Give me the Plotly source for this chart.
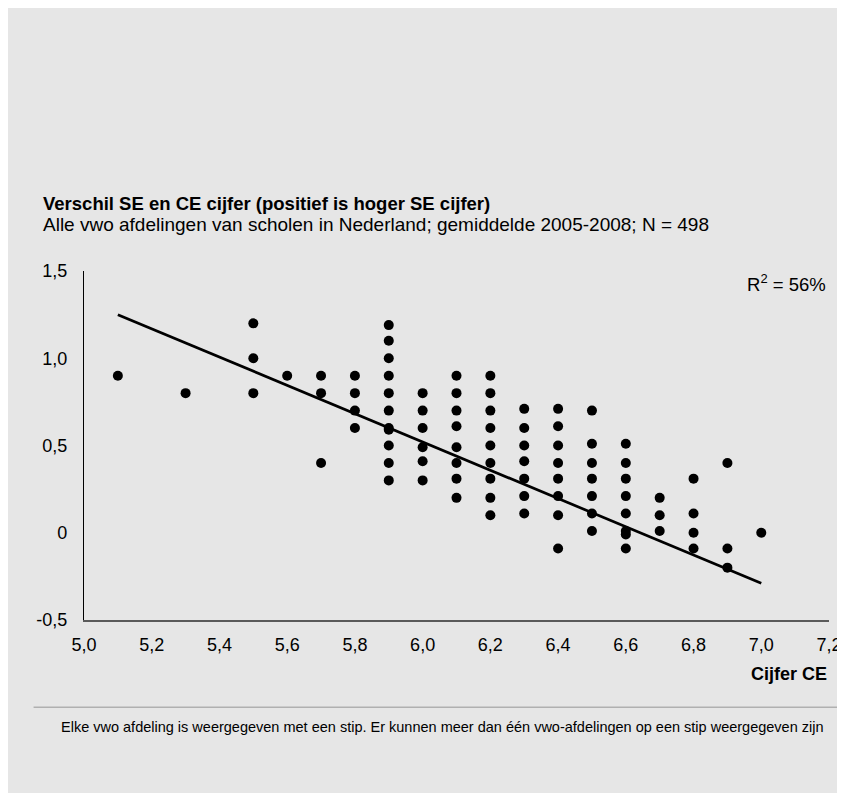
import plotly.graph_objects as go

# ---- data ----
cijfer_ce = (
    [5.1] + [5.3] + [5.5] * 3 + [5.6] + [5.7] * 3 + [5.8] * 4 + [5.9] * 11 +
    [6.0] * 6 + [6.1] * 8 + [6.2] * 9 + [6.3] * 7 + [6.4] * 8 + [6.5] * 7 +
    [6.6] * 8 + [6.7] * 3 + [6.8] * 4 + [6.9] * 3 + [7.0]
)
verschil = [
    0.9,
    0.8,
    1.2, 1.0, 0.8,
    0.9,
    0.9, 0.8, 0.4,
    0.9, 0.8, 0.7, 0.6,
    1.19, 1.1, 1.0, 0.9, 0.8, 0.7, 0.6, 0.59, 0.5, 0.4, 0.3,
    0.8, 0.7, 0.6, 0.49, 0.41, 0.3,
    0.9, 0.8, 0.7, 0.61, 0.49, 0.4, 0.31, 0.2,
    0.9, 0.8, 0.7, 0.6, 0.5, 0.4, 0.31, 0.2, 0.1,
    0.71, 0.6, 0.5, 0.41, 0.31, 0.21, 0.11,
    0.71, 0.61, 0.5, 0.4, 0.31, 0.21, 0.1, -0.09,
    0.7, 0.51, 0.4, 0.31, 0.21, 0.11, 0.01,
    0.51, 0.4, 0.31, 0.21, 0.11, 0.01, -0.01, -0.09,
    0.2, 0.1, 0.01,
    0.31, 0.11, 0.0, -0.09,
    0.4, -0.09, -0.2,
    0.0,
]
trend_x = [5.1, 7.0]
trend_y = [1.25, -0.29]

x_tick_vals = [5.0, 5.2, 5.4, 5.6, 5.8, 6.0, 6.2, 6.4, 6.6, 6.8, 7.0, 7.2]
x_tick_labels = ["5,0", "5,2", "5,4", "5,6", "5,8", "6,0", "6,2", "6,4", "6,6", "6,8", "7,0", "7,2"]
y_tick_vals = [-0.5, 0.0, 0.5, 1.0, 1.5]
y_tick_labels = ["-0,5", "0", "0,5", "1,0", "1,5"]

title = "Verschil SE en CE cijfer (positief is hoger SE cijfer)"
subtitle = "Alle vwo afdelingen van scholen in Nederland; gemiddelde 2005-2008; N = 498"
r2_text = "R<sup>2</sup> = 56%"
x_title = "Cijfer CE"
footnote = ("Elke vwo afdeling is weergegeven met een stip. Er kunnen meer dan één "
            "vwo-afdelingen op een stip weergegeven zijn")

# ---- layout geometry (page pixels; figure sits 8px in from the page corner) ----
OFF = 8
W, H = 845, 793
SL, SR, ST, SB = 83.5, 829.5, 271, 620.5           # plot area in page coords
L, R, T, B = SL - OFF, SR - OFF, ST - OFF, SB - OFF  # in figure coords


def px(xs):
    return (xs - SL) / (SR - SL)


def py(ys):
    return (SB - ys) / (SB - ST)


BG = "#e6e6e6"
FONT = "Liberation Sans, Arial, sans-serif"

fig = go.Figure()
fig.add_trace(go.Scatter(
    x=trend_x, y=trend_y, mode="lines",
    line=dict(color="black", width=2.7), hoverinfo="skip", showlegend=False,
))
fig.add_trace(go.Scatter(
    x=cijfer_ce, y=verschil, mode="markers",
    marker=dict(color="black", size=10), showlegend=False,
))

fig.update_layout(
    width=W, height=H, autosize=False,
    paper_bgcolor=BG, plot_bgcolor=BG,
    margin=dict(l=L, r=W - R, t=T, b=H - B, pad=0),
    font=dict(family=FONT, size=18, color="black"),
    showlegend=False,
    xaxis=dict(
        range=[5.0, 7.2], tickvals=x_tick_vals, ticktext=x_tick_labels,
        showgrid=False, zeroline=False, showline=True, linecolor="#5a5a5a", linewidth=1.6,
        ticks="", ticklabelstandoff=8, tickfont=dict(size=18), ticklabeloverflow="allow",
        automargin=False,
    ),
    yaxis=dict(
        range=[-0.5, 1.5], tickvals=y_tick_vals, ticktext=y_tick_labels,
        showgrid=False, zeroline=False, showline=True, linecolor="black", linewidth=1.2,
        ticks="", ticklabelstandoff=12, tickfont=dict(size=18), automargin=False,
    ),
    annotations=[
        dict(text="<b>" + title + "</b>", xref="paper", yref="paper", x=px(40), y=py(203),
             xanchor="left", yanchor="middle", showarrow=False, font=dict(size=18.5)),
        dict(text=subtitle, xref="paper", yref="paper", x=px(40), y=py(224),
             xanchor="left", yanchor="middle", showarrow=False, font=dict(size=19)),
        dict(text=r2_text, xref="paper", yref="paper", x=px(828), y=py(283),
             xanchor="right", yanchor="middle", showarrow=False, font=dict(size=18.5)),
        dict(text="<b>" + x_title + "</b>", xref="paper", yref="paper", x=px(830), y=py(675),
             xanchor="right", yanchor="middle", showarrow=False, font=dict(size=18)),
        dict(text=footnote, xref="paper", yref="paper", x=px(442), y=py(728),
             xanchor="center", yanchor="middle", showarrow=False, font=dict(size=14.5)),
    ],
    shapes=[
        dict(type="line", xref="paper", yref="paper", x0=px(33), x1=px(840),
             y0=py(708), y1=py(708), line=dict(color="#b0b0b0", width=1.5)),
    ],
)

fig.write_html("out.html")
